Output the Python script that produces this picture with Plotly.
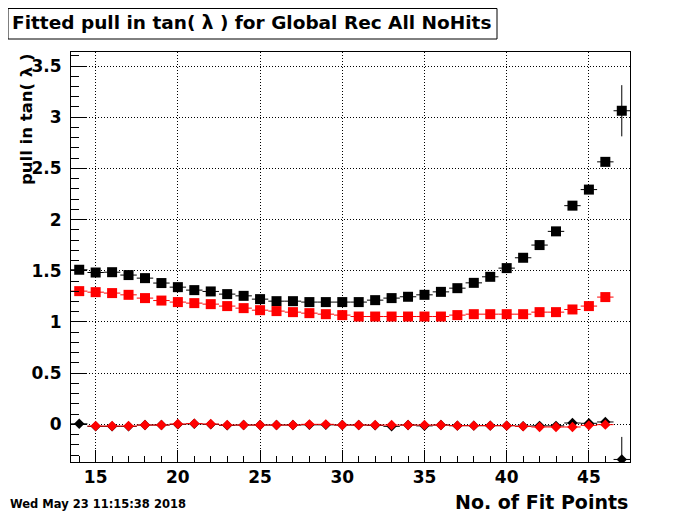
import plotly.graph_objects as go

# ---- data ----
fit_points = list(range(14, 48))          # 14 .. 47
fit_points_red = list(range(14, 47))      # 14 .. 46
fit_points_red_dia = list(range(15, 47))  # 15 .. 46

black_squares = [1.510, 1.483, 1.486, 1.458, 1.428, 1.380, 1.340, 1.311, 1.298, 1.272,
                 1.255, 1.223, 1.203, 1.203, 1.194, 1.194, 1.194, 1.194, 1.213, 1.233,
                 1.246, 1.265, 1.294, 1.330, 1.382, 1.441, 1.526, 1.627, 1.751, 1.885,
                 2.136, 2.293, 2.564, 3.063]
black_squares_err = [0.005] * 33 + [0.25]

red_squares = [1.301, 1.291, 1.282, 1.265, 1.233, 1.209, 1.194, 1.184, 1.174, 1.155,
               1.135, 1.115, 1.106, 1.096, 1.086, 1.076, 1.067, 1.053, 1.053, 1.053,
               1.053, 1.053, 1.053, 1.067, 1.076, 1.076, 1.076, 1.076, 1.096, 1.096,
               1.122, 1.155, 1.243]
red_squares_err = [0.004] * 33

black_diamonds = [0.005, -0.020, -0.020, -0.020, -0.007, -0.007, 0.000, 0.005, 0.000, -0.010,
                  -0.007, -0.007, -0.007, -0.007, -0.005, -0.005, -0.007, -0.007, -0.010, -0.020,
                  -0.007, -0.015, -0.007, -0.013, -0.013, -0.013, -0.013, -0.018, -0.015, -0.015,
                  0.013, 0.010, 0.023, -0.343]
black_diamonds_err = [0.005] * 33 + [0.22]

red_diamonds = [-0.017, -0.017, -0.017, -0.007, -0.007, 0.003, 0.007, 0.003, -0.007, -0.007,
                -0.007, -0.007, -0.007, 0.000, 0.000, -0.007, -0.007, -0.007, -0.007, -0.007,
                -0.007, -0.007, -0.013, -0.013, -0.013, -0.013, -0.020, -0.026, -0.026, -0.026,
                -0.010, -0.003]
red_diamonds_err = [0.004] * 32

title_text = "Fitted pull in tan( \u03bb ) for Global Rec All NoHits"
ytitle_text = "pull in tan( \u03bb )"
xtitle_text = "No. of Fit Points"
date_text = "Wed May 23 11:15:38 2018"

# ---- layout geometry ----
# The page body adds an 8px offset; positions below are page pixels minus that.
OFF = 8
W, H = 700 - OFF, 514 - OFF
L, R, T, B = 71 - OFF, 630 - OFF, 52 - OFF, 462 - OFF


def px(x):
    return (x - OFF - L) / (R - L)


def py(y):
    return (B - (y - OFF)) / (B - T)


FONT = "DejaVu Sans"

fig = go.Figure()


def add_series(x, y, yerr, color, symbol, size):
    fig.add_trace(go.Scatter(
        x=x, y=y, mode="markers",
        marker=dict(symbol=symbol, size=size, color=color, line=dict(width=0)),
        error_x=dict(type="constant", value=0.5, color=color, thickness=1, width=0),
        error_y=dict(type="data", array=yerr, color=color, thickness=1, width=0),
        showlegend=False, hoverinfo="x+y",
    ))


add_series(fit_points, black_squares, black_squares_err, "black", "square", 10)
add_series(fit_points_red, red_squares, red_squares_err, "#ff0000", "square", 10)
add_series(fit_points, black_diamonds, black_diamonds_err, "black", "diamond", 8)
add_series(fit_points_red_dia, red_diamonds, red_diamonds_err, "#ff0000", "diamond", 8)

axis_common = dict(
    showline=True, linecolor="black", linewidth=1, mirror=True,
    showgrid=True, gridcolor="black", griddash="1px,2px", gridwidth=1,
    zeroline=False, ticks="inside", tickcolor="black", tickwidth=1,
    tickfont=dict(family=FONT, size=17, color="black", weight="bold"),
)

fig.update_layout(
    width=W, height=H,
    margin=dict(l=L, r=W - R, t=T, b=H - B),
    paper_bgcolor="white", plot_bgcolor="white",
    xaxis=dict(range=[13.5, 47.5], dtick=5, tick0=0, ticklen=12,
               minor=dict(dtick=1, ticks="inside", ticklen=6, tickcolor="black", showgrid=False),
               **axis_common),
    yaxis=dict(range=[-0.368, 3.637], dtick=0.5, tick0=0, ticklen=15,
               ticklabelstandoff=5,
               minor=dict(dtick=0.1, ticks="inside", ticklen=8, tickcolor="black", showgrid=False),
               **axis_common),
    shapes=[dict(type="rect", xref="paper", yref="paper",
                 x0=px(8), x1=px(497), y0=py(39), y1=py(8.5),
                 line=dict(color="black", width=1), fillcolor="white", layer="above")],
    annotations=[
        dict(text=title_text, xref="paper", yref="paper", x=px(251), y=py(23),
             xanchor="center", yanchor="middle", showarrow=False,
             font=dict(family=FONT, size=18.5, color="black", weight="bold")),
        dict(text=ytitle_text, xref="paper", yref="paper", x=px(26), y=py(51),
             xanchor="center", yanchor="top", textangle=-90, showarrow=False,
             font=dict(family=FONT, size=16.5, color="black", weight="bold")),
        dict(text=xtitle_text, xref="paper", yref="paper", x=px(630), y=py(502),
             xanchor="right", yanchor="middle", showarrow=False,
             font=dict(family=FONT, size=19, color="black", weight="bold")),
        dict(text=date_text, xref="paper", yref="paper", x=px(8), y=py(504),
             xanchor="left", yanchor="middle", showarrow=False,
             font=dict(family=FONT, size=11.5, color="black", weight="bold")),
    ],
)

fig.write_html("out.html", config={"displayModeBar": False})
